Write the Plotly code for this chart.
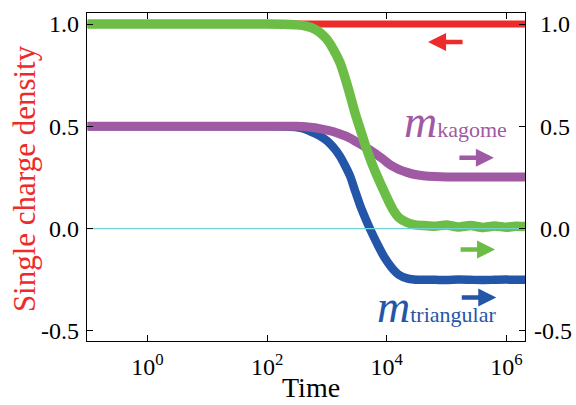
import plotly.graph_objects as go

# time points (x values)
time = [0.1, 1, 10, 100, 200, 316, 447, 631, 794, 1000, 1259, 1660, 1995, 2455, 2951,
        3631, 4467, 5623, 7079, 8913, 10715, 12882, 15849, 21878, 28184, 40738, 63096,
        1e5, 158489, 251189, 398107, 630957, 1e6, 1.41e6, 2.04e6]

red = [1.0, 1.0, 1.0, 1.0, 1.0, 1.0, 1.0, 1.0, 1.0, 1.0, 1.0, 1.0, 1.0, 1.0, 1.0,
       1.0, 1.0, 1.0, 1.0, 1.0, 1.0, 1.0, 1.0, 1.0, 1.0, 1.0, 1.0,
       1.0, 1.0, 1.0, 1.0, 1.0, 1.0, 1.0, 1.0]
green = [1.0, 1.0, 1.0, 1.0, 0.999, 0.996, 0.99, 0.975, 0.955, 0.925, 0.88, 0.81, 0.74,
         0.65, 0.565, 0.483, 0.40, 0.32, 0.25, 0.185, 0.135, 0.09, 0.055, 0.03, 0.02,
         0.015, 0.012, 0.018, 0.008, 0.015, 0.006, 0.013, 0.007, 0.012, 0.01]
purple = [0.5, 0.5, 0.5, 0.5, 0.5, 0.5, 0.498, 0.493, 0.488, 0.482, 0.475, 0.463, 0.454,
          0.442, 0.428, 0.413, 0.397, 0.378, 0.358, 0.337, 0.318, 0.303, 0.29, 0.275,
          0.266, 0.259, 0.255, 0.253, 0.253, 0.253, 0.253, 0.253, 0.253, 0.253, 0.253]
blue = [0.5, 0.5, 0.5, 0.5, 0.499, 0.495, 0.485, 0.465, 0.45, 0.43, 0.40, 0.353, 0.31,
        0.255, 0.185, 0.109, 0.045, -0.02, -0.08, -0.135, -0.17, -0.2, -0.225, -0.243,
        -0.248, -0.25, -0.25, -0.251, -0.249, -0.25, -0.251, -0.25, -0.249, -0.25, -0.25]

ytick_vals = [-0.5, 0.0, 0.5, 1.0]
ytick_text = ["-0.5", "0.0", "0.5", "1.0"]
xtick_vals = [1, 100, 1e4, 1e6]
xtick_text = ["10<sup>0</sup>", "10<sup>2</sup>", "10<sup>4</sup>", "10<sup>6</sup>"]

RED = "#ee2b2b"
GREEN = "#6cbd45"
PURPLE = "#a05aa3"
BLUE = "#2356a8"
CYAN = "#6fd3d6"
FONT = "Liberation Serif, Times New Roman, serif"

# right-axis labels are right-aligned in the reference: pad non-negative ones
ytick_text_right = [t if t.startswith("-") else "\u00a0" + t for t in ytick_text]

fig = go.Figure()
line_kw = dict(mode="lines", showlegend=False, hoverinfo="skip")
fig.add_trace(go.Scatter(x=time, y=red, line=dict(color=RED, width=7), **line_kw))
fig.add_trace(go.Scatter(x=time, y=blue, line=dict(color=BLUE, width=8.5, shape="spline", smoothing=0.6), **line_kw))
fig.add_trace(go.Scatter(x=time, y=purple, line=dict(color=PURPLE, width=9, shape="spline", smoothing=0.6), **line_kw))
fig.add_trace(go.Scatter(x=time, y=green, line=dict(color=GREEN, width=9.5, shape="spline", smoothing=0.6), **line_kw))
fig.add_trace(go.Scatter(x=[time[0], time[-1]], y=[0, 0], line=dict(color=CYAN, width=1.2),
                         yaxis="y2", **line_kw))

axis_common = dict(ticks="inside", ticklen=6, tickwidth=1.2, tickcolor="black",
                   showline=True, linecolor="black", linewidth=1.3,
                   showgrid=False, zeroline=False, automargin=False,
                   tickfont=dict(family=FONT, size=24, color="black"))

fig.update_layout(
    width=576, height=405,
    margin=dict(l=87, r=51, t=13, b=64, autoexpand=False),
    paper_bgcolor="white", plot_bgcolor="white",
    font=dict(family=FONT, size=24, color="black"),
    xaxis=dict(type="log", range=[-1.01, 6.31], tickvals=xtick_vals, ticktext=xtick_text,
               mirror="ticks", ticklabelstandoff=4, **axis_common),
    yaxis=dict(range=[-0.549, 1.054], tickvals=ytick_vals, ticktext=ytick_text,
               ticklabelstandoff=2, **axis_common),
    yaxis2=dict(range=[-0.549, 1.054], overlaying="y", side="right", tickvals=ytick_vals,
                ticktext=ytick_text_right, ticklabelstandoff=3, **axis_common),
)

# axis titles
fig.add_annotation(x=0.511, y=-0.143, xref="paper", yref="paper", xanchor="center", yanchor="middle",
                   showarrow=False, text="Time", font=dict(family=FONT, size=28, color="black"))
fig.add_annotation(x=-0.142, y=0.496, xref="paper", yref="paper", xanchor="center", yanchor="middle",
                   showarrow=False, textangle=-90, text="Single charge density",
                   font=dict(family=FONT, size=31, color=RED))

# arrows
arrow_common = dict(xref="x", yref="y", axref="pixel", ayref="pixel", showarrow=True,
                    arrowhead=2, arrowsize=0.8, arrowwidth=4.5, text="")
fig.add_annotation(x=4.69, y=0.912, ax=36, ay=0, arrowcolor=RED, **arrow_common)
fig.add_annotation(x=5.79, y=0.346, ax=-36, ay=0, arrowcolor=PURPLE, **arrow_common)
fig.add_annotation(x=5.81, y=-0.102, ax=-36, ay=0, arrowcolor=GREEN, **arrow_common)
fig.add_annotation(x=5.83, y=-0.337, ax=-36, ay=0, arrowcolor=BLUE, **arrow_common)

# labels
SUB = "<span style=\"font-family:'Liberation Serif'\">{}</span>"
fig.add_annotation(x=4.25, y=0.524, xref="x", yref="y", xanchor="left", yanchor="middle", showarrow=False,
                   text='<span style="font-size:46px"><i>m</i></span>' + SUB.format("kagome"),
                   font=dict(family=FONT, size=22, color=PURPLE))
fig.add_annotation(x=3.80, y=-0.38, xref="x", yref="y", xanchor="left", yanchor="middle", showarrow=False,
                   text='<span style="font-size:46px"><i>m</i></span>' + SUB.format("triangular"),
                   font=dict(family=FONT, size=22, color=BLUE))

fig.write_html("out.html", config={"displayModeBar": False},
               post_script="document.body.style.margin='0px';")
